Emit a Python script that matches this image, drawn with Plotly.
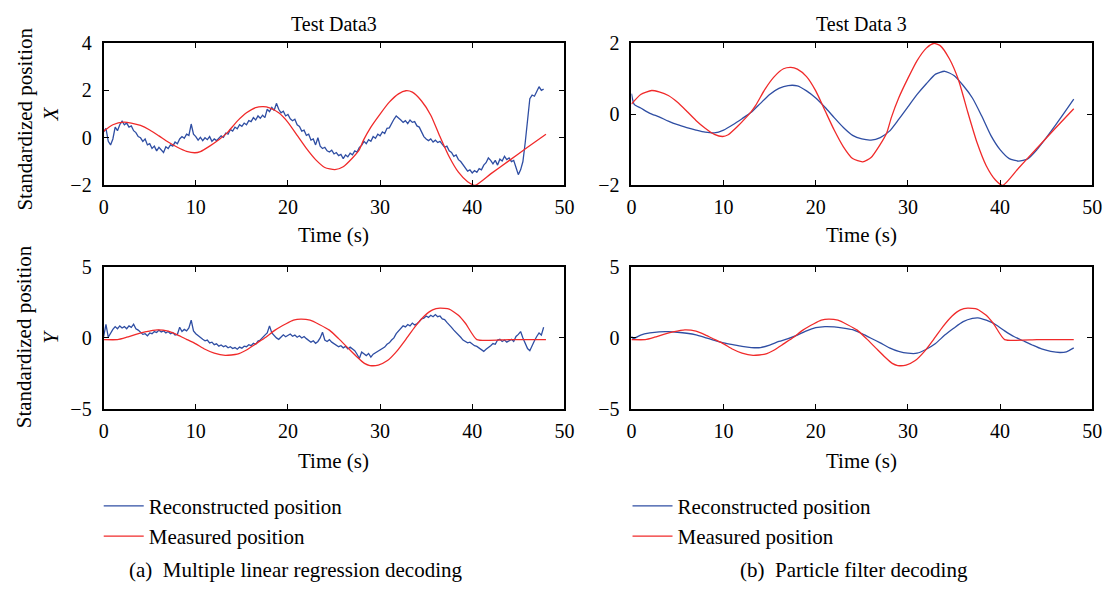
import plotly.graph_objects as go

# ---------------- data ----------------
# Measured X position (both top panels)
meas_x_t = [0, 1, 2.2, 3, 4, 5, 6, 7, 8, 9, 9.9, 10.5, 11.5, 12.5, 13, 13.5, 14.5, 15.5, 16.5, 17.3,
            18, 19, 20, 21, 22, 23, 24, 25.1, 26, 27, 27.7, 28.2, 29, 30, 31, 32, 32.8, 33.5, 34.5,
            35.5, 36.5, 37.5, 38.5, 39.5, 40.3, 42, 44, 46, 48]
meas_x_v = [0.28, 0.55, 0.66, 0.62, 0.52, 0.33, 0.08, -0.18, -0.40, -0.57, -0.63, -0.58, -0.35, -0.08,
            0.07, 0.25, 0.70, 1.05, 1.27, 1.31, 1.26, 1.05, 0.65, 0.10, -0.45, -0.92, -1.25, -1.34,
            -1.22, -0.85, -0.53, -0.10, 0.45, 1.00, 1.50, 1.85, 1.98, 1.92, 1.55, 0.95, 0.05, -0.80,
            -1.45, -1.85, -2.00, -1.52, -0.96, -0.40, 0.15]

# Measured Y position (both bottom panels)
meas_y_t = [0, 1.5, 2.5, 3.5, 4.5, 5.8, 7, 8, 9, 10, 11, 12, 13.2, 14.5, 15.5, 16.5, 17.6, 18.6,
            19.8, 20.6, 21.4, 22.4, 23.4, 24.5, 25.5, 26.5, 27.5, 28.3, 28.9, 29.8, 30.8, 31.8,
            32.8, 33.8, 34.8, 35.7, 36.5, 37.5, 38.5, 39.3, 40.5, 44, 48]
meas_y_v = [-0.12, -0.12, 0.05, 0.25, 0.42, 0.57, 0.48, 0.22, -0.10, -0.42, -0.80, -1.08, -1.23,
            -1.15, -0.85, -0.42, 0.05, 0.55, 1.00, 1.25, 1.33, 1.25, 0.95, 0.55, -0.05, -0.70,
            -1.35, -1.80, -1.95, -1.92, -1.60, -0.95, -0.10, 0.80, 1.55, 1.98, 2.10, 2.03, 1.60,
            1.00, -0.12, -0.12, -0.12]

# Multiple linear regression reconstruction, sampled every 0.25 s from t = 0
mlr_x = [0.25, 0.40, -0.15, -0.30, -0.05, 0.45, 0.30, 0.55, 0.70, 0.55, 0.62, 0.45, 0.50, 0.30, 0.22, 0.05,
         0.00, -0.15, -0.05, -0.30, -0.25, -0.45, -0.35, -0.55, -0.40, -0.50, -0.62, -0.38, -0.45, -0.30, -0.35, -0.18,
         -0.25, -0.05, 0.05, -0.02, 0.15, 0.10, 0.58, 0.15, 0.05, -0.10, 0.02, -0.12, 0.00, -0.08, 0.05, -0.15,
         -0.05, -0.12, 0.00, 0.08, 0.02, 0.20, 0.15, 0.35, 0.28, 0.45, 0.38, 0.55, 0.48, 0.62, 0.55, 0.72,
         0.68, 0.85, 0.75, 0.92, 0.82, 0.95, 0.85, 1.20, 1.10, 1.28, 1.15, 1.45, 1.20, 1.05, 1.12, 0.92,
         0.98, 0.80, 0.72, 0.78, 0.55, 0.48, 0.28, 0.32, 0.10, 0.15, -0.10, -0.05, -0.30, 0.00, -0.35, -0.45,
         -0.40, -0.55, -0.60, -0.52, -0.68, -0.62, -0.75, -0.70, -0.88, -0.72, -0.80, -0.65, -0.72, -0.55, -0.60, -0.40,
         -0.32, -0.15, -0.25, -0.08, -0.15, 0.05, -0.02, 0.15, 0.08, 0.25, 0.18, 0.40, 0.42, 0.62, 0.78, 0.92,
         0.85, 0.75, 0.65, 0.72, 0.60, 0.75, 0.65, 0.68, 0.50, 0.45, 0.25, 0.05, -0.05, -0.12, -0.05, -0.18,
         -0.10, -0.20, -0.15, -0.30, -0.40, -0.35, -0.55, -0.62, -0.78, -0.72, -0.92, -1.00, -1.15, -1.25, -1.40, -1.35,
         -1.48, -1.38, -1.45, -1.30, -1.35, -1.15, -1.05, -0.85, -0.95, -1.10, -0.95, -1.15, -0.90, -0.98, -0.78, -0.92,
         -0.85, -1.00, -0.95, -1.25, -1.55, -1.35, -1.00, -0.20, 0.80, 1.65, 1.80, 1.75, 1.95, 2.15, 2.00, 2.05]

mlr_y = [0.10, 0.95, 0.05, 0.35, 0.60, 0.80, 0.65, 0.85, 0.70, 0.80, 0.65, 0.85, 0.75, 0.97, 0.65, 0.55,
         0.40, 0.25, 0.30, 0.15, 0.35, 0.30, 0.45, 0.38, 0.55, 0.42, 0.50, 0.35, 0.45, 0.30, 0.38, 0.20,
         0.25, 0.75, 0.45, 0.60, 0.50, 0.70, 1.25, 0.50, 0.30, 0.15, 0.05, -0.10, -0.20, -0.15, -0.35, -0.30,
         -0.48, -0.42, -0.58, -0.50, -0.62, -0.55, -0.70, -0.62, -0.75, -0.68, -0.80, -0.65, -0.72, -0.58, -0.62, -0.48,
         -0.55, -0.38, -0.45, -0.22, -0.15, 0.05, 0.20, 0.35, 0.85, 0.35, 0.15, 0.00, -0.10, 0.10, 0.22, 0.08,
         0.18, 0.28, 0.12, 0.20, 0.05, 0.15, 0.00, 0.10, -0.05, -0.15, -0.30, -0.20, -0.38, -0.25, 0.00, 0.40,
         -0.15, -0.25, -0.12, -0.30, -0.40, -0.55, -0.62, -0.55, -0.70, -0.60, -0.78, -0.65, -0.75, -0.90, -1.15, -1.45,
         -1.00, -1.15, -1.25, -1.10, -1.35, -1.15, -1.05, -0.90, -0.85, -0.70, -0.65, -0.45, -0.35, -0.15, 0.00, 0.30,
         0.50, 0.65, 0.85, 0.78, 0.95, 0.85, 1.05, 0.92, 1.00, 1.15, 1.35, 1.40, 1.55, 1.45, 1.60, 1.50,
         1.65, 1.50, 1.55, 1.35, 1.30, 1.10, 0.95, 0.75, 0.55, 0.40, 0.20, 0.05, -0.15, -0.25, -0.35, -0.30,
         -0.45, -0.55, -0.60, -0.70, -0.85, -0.95, -0.80, -0.70, -0.55, -0.40, -0.45, -0.15, -0.10, -0.25, -0.15, -0.30,
         -0.20, -0.10, -0.25, 0.10, 0.25, 0.45, 0.00, -0.40, -0.75, -0.90, -0.50, -0.20, 0.10, 0.35, 0.20, 0.75]

# Particle filter reconstruction
pf_x_t = [0, 0.3, 1, 2, 3, 4, 5, 6, 7, 8, 9, 10, 11, 12, 13, 14, 15, 16, 17, 18, 19, 20, 21, 22, 23,
          24, 25, 26, 27, 28, 29, 30, 31, 32, 33, 34, 35, 36, 37, 38, 39, 40, 41, 42, 43, 44, 45, 46, 47, 48]
pf_x_v = [0.57, 0.27, 0.17, 0.02, -0.08, -0.20, -0.30, -0.38, -0.45, -0.51, -0.53, -0.45, -0.30, -0.13,
          0.05, 0.30, 0.55, 0.72, 0.80, 0.79, 0.65, 0.45, 0.19, -0.10, -0.38, -0.60, -0.70, -0.73, -0.66,
          -0.48, -0.15, 0.20, 0.55, 0.85, 1.12, 1.20, 1.08, 0.80, 0.45, -0.05, -0.60, -1.00, -1.25, -1.32,
          -1.26, -1.00, -0.67, -0.32, 0.05, 0.42]

pf_y_t = [0, 0.2, 1, 2, 3, 4, 5, 6, 7, 8, 9, 10, 11, 12, 13, 14, 15, 16, 17, 18, 19, 20, 21, 22, 23,
          24, 25, 26, 27, 28, 29, 30, 31, 32, 33, 34, 35, 36, 37, 37.6, 38.5, 39.5, 40.5, 41.5, 42.5,
          43.5, 44.5, 45.5, 46.5, 47.2, 48]
pf_y_v = [0.12, -0.05, 0.20, 0.35, 0.43, 0.44, 0.40, 0.33, 0.22, 0.02, -0.18, -0.35, -0.48, -0.60,
          -0.68, -0.68, -0.50, -0.25, -0.05, 0.20, 0.50, 0.72, 0.80, 0.78, 0.70, 0.58, 0.30, -0.02,
          -0.35, -0.70, -0.95, -1.08, -1.08, -0.80, -0.40, 0.20, 0.70, 1.15, 1.38, 1.42, 1.25, 0.95,
          0.50, 0.10, -0.20, -0.50, -0.78, -0.95, -1.03, -0.98, -0.70]

x_ticks = [0, 10, 20, 30, 40, 50]
BLUE = "#2f4ea3"
RED = "#f02a2a"
FONT = "Liberation Serif"
TXT = 21

# ---------------- figure ----------------
W, H = 1116, 594
def px_x(p):
    return p / W
def px_y(p):
    return 1 - p / H

left_dom = [px_x(100), px_x(567)]
right_dom = [px_x(635), px_x(1102)]
top_dom = [px_y(181), px_y(33)]
bot_dom = [px_y(413), px_y(266)]

fig = go.Figure()
lw = 1.3
# top-left
fig.add_trace(go.Scatter(x0=0, dx=0.25, y=mlr_x, mode="lines", line=dict(color=BLUE, width=lw),
                         name="Reconstructed position", legend="legend", xaxis="x", yaxis="y"))
fig.add_trace(go.Scatter(x=meas_x_t, y=meas_x_v, mode="lines", line=dict(color=RED, width=lw, shape="spline", smoothing=0.6),
                         name="Measured position", legend="legend", xaxis="x", yaxis="y"))
# top-right
fig.add_trace(go.Scatter(x=pf_x_t, y=pf_x_v, mode="lines", line=dict(color=BLUE, width=lw, shape="spline", smoothing=0.6),
                         name="Reconstructed position", legend="legend2", xaxis="x2", yaxis="y2"))
fig.add_trace(go.Scatter(x=meas_x_t, y=meas_x_v, mode="lines", line=dict(color=RED, width=lw, shape="spline", smoothing=0.6),
                         name="Measured position", legend="legend2", xaxis="x2", yaxis="y2"))
# bottom-left
fig.add_trace(go.Scatter(x0=0, dx=0.25, y=mlr_y, mode="lines", line=dict(color=BLUE, width=lw),
                         showlegend=False, xaxis="x3", yaxis="y3"))
fig.add_trace(go.Scatter(x=meas_y_t, y=meas_y_v, mode="lines", line=dict(color=RED, width=lw, shape="spline", smoothing=0.5),
                         showlegend=False, xaxis="x3", yaxis="y3"))
# bottom-right
fig.add_trace(go.Scatter(x=pf_y_t, y=pf_y_v, mode="lines", line=dict(color=BLUE, width=lw, shape="spline", smoothing=0.6),
                         showlegend=False, xaxis="x4", yaxis="y4"))
fig.add_trace(go.Scatter(x=meas_y_t, y=meas_y_v, mode="lines", line=dict(color=RED, width=lw, shape="spline", smoothing=0.5),
                         showlegend=False, xaxis="x4", yaxis="y4"))

axis_common = dict(showline=True, linecolor="black", linewidth=2, mirror="ticks", ticks="inside",
                   ticklen=5, tickwidth=1, tickcolor="black", showgrid=False, zeroline=False,
                   tickfont=dict(family=FONT, size=20, color="black"))

def xa(dom, anchor):
    return dict(domain=dom, anchor=anchor, range=[0, 50], tickvals=x_ticks, ticklabelstandoff=3, **axis_common)

def ya(dom, anchor, rng, ticks):
    return dict(domain=dom, anchor=anchor, range=rng, tickvals=ticks, ticklabelstandoff=6, **axis_common)

leg_common = dict(xanchor="left", yanchor="top", bgcolor="rgba(0,0,0,0)",
                  font=dict(family=FONT, size=TXT), tracegroupgap=0, itemwidth=40)

fig.update_layout(
    width=W, height=H, margin=dict(l=0, r=0, t=0, b=0),
    paper_bgcolor="white", plot_bgcolor="white",
    font=dict(family=FONT, size=TXT, color="black"),
    xaxis=xa(left_dom, "y"), yaxis=ya(top_dom, "x", [-2, 4], [-2, 0, 2, 4]),
    xaxis2=xa(right_dom, "y2"), yaxis2=ya(top_dom, "x2", [-2, 2], [-2, 0, 2]),
    xaxis3=xa(left_dom, "y3"), yaxis3=ya(bot_dom, "x3", [-5, 5], [-5, 0, 5]),
    xaxis4=xa(right_dom, "y4"), yaxis4=ya(bot_dom, "x4", [-5, 5], [-5, 0, 5]),
    legend=dict(x=px_x(95), y=px_y(493), **leg_common),
    legend2=dict(x=px_x(631), y=px_y(493), **leg_common),
)

def ann(text, x, y, size=TXT, angle=0, italic=False):
    fig.add_annotation(text=("<i>%s</i>" % text) if italic else text, x=px_x(x), y=px_y(y),
                       xref="paper", yref="paper", showarrow=False, textangle=angle,
                       xanchor="center", yanchor="middle",
                       font=dict(family=FONT, size=size, color="black"))

ann("Test Data3", 333, 13, size=20)
ann("Test Data 3", 868, 13, size=20)
ann("Time (s)", 333, 233)
ann("Time (s)", 868, 233)
ann("Time (s)", 333, 467)
ann("Time (s)", 868, 467)
ann("Standardized position", 20, 112, angle=-90)
ann("X", 47, 107, angle=-90, italic=True)
ann("Standardized position", 20, 338, angle=-90)
ann("Y", 47, 338, angle=-90, italic=True)
ann("(a)  Multiple linear regression decoding", 294, 580, size=21)
ann("(b)  Particle filter decoding", 861, 580, size=21)

fig.write_html("out.html")
